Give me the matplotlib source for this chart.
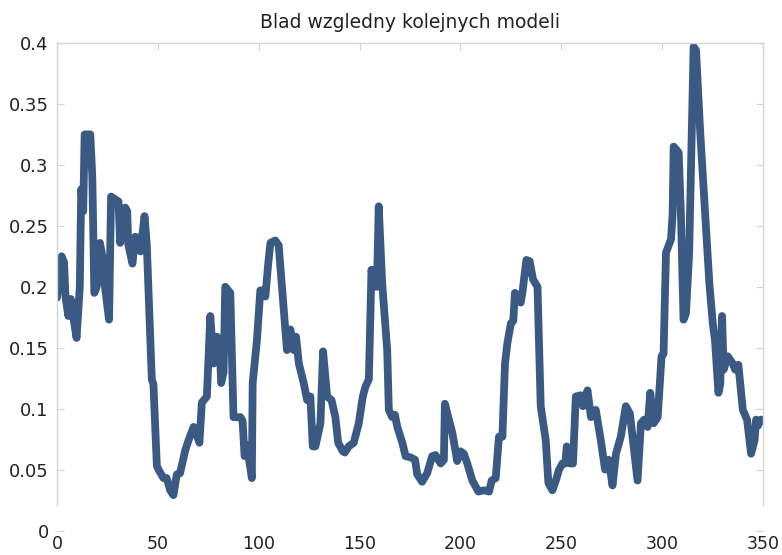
import matplotlib
matplotlib.use("Agg")
import matplotlib.pyplot as plt

title = "Blad wzgledny kolejnych modeli"

model_idx = [0, 2.3, 3.5, 4.2, 5.6, 6.8, 8.1, 9.7, 11.3, 12, 13, 13.7, 16.5, 17.5, 18.5, 19.7,
             21.3, 22.5, 23.7, 25.8, 26.8, 29.6, 30.5, 31.3, 33.8, 34.8, 35.3, 37.4, 38.7, 40.4,
             41.4, 43.4, 44.5, 47.0, 47.8, 49.5, 50.3, 52.8, 54.4, 56.1, 57.7, 59.4, 61, 63.6,
             65.2, 67.7, 69.4, 70.6, 71.8, 74.3, 76, 77.6, 79.3, 80.5, 81.4, 82.6, 83.4, 85.9,
             87.5, 90.9, 92, 93, 94.1, 96.6, 97, 99.1, 100.8, 102.4, 103.3, 104.6, 105.8, 108.2,
             109.9, 113.2, 114, 115.7, 117.4, 118.5, 119.9, 122.3, 124, 125.6, 126.8, 128.1,
             130.6, 131.9, 133.9, 136.1, 138, 139.4, 141.7, 142.7, 144.6, 147.1, 149.6, 151.6,
             152.9, 154.6, 155.9, 157, 157.8, 158.6, 159.5, 161.2, 163.7, 164.5, 166.2, 167.5,
             168.7, 171.2, 172.8, 175.3, 177.5, 178.6, 181, 183.5, 186, 187.6, 190.2, 191.8,
             192.3, 193.5, 196, 198.4, 200.1, 201.7, 203.4, 205.9, 208.9, 211.7, 214.2, 215.5,
             217.5, 219.1, 220.8, 222.1, 223.3, 225, 226.2, 227, 228.2, 229.9, 230.7, 232.7,
             234.3, 236, 238.2, 239.8, 242.3, 243.6, 245.6, 247.3, 248.9, 250.6, 252.0, 252.7,
             254.4, 255.8, 257.2, 259.7, 260.8, 263, 264.7, 267.1, 269.6, 271.7, 273.5, 275.4,
             277.1, 279.5, 282, 284, 287.8, 289.5, 291.1, 292.8, 294.1, 295.8, 297.8, 299.7,
             300.7, 301.9, 304.4, 305.2, 305.7, 307.3, 308.2, 309.3, 310.6, 311.8, 313.4, 315.6,
             316.8, 318.9, 323.4, 325.1, 326.2, 327.9, 328.8, 329.7, 330.5, 332.5, 335, 336.2,
             337.8, 340, 342.1, 344.1, 345.8, 346.6, 347.5, 349]

rel_error = [0.191, 0.225, 0.22, 0.192, 0.176, 0.19, 0.175, 0.158, 0.2, 0.28, 0.262, 0.325, 0.325,
             0.29, 0.195, 0.2, 0.236, 0.225, 0.201, 0.173, 0.274, 0.271, 0.27, 0.236, 0.265, 0.262,
             0.235, 0.219, 0.241, 0.24, 0.229, 0.258, 0.235, 0.124, 0.12, 0.053, 0.05, 0.043, 0.043,
             0.033, 0.029, 0.046, 0.047, 0.066, 0.074, 0.085, 0.078, 0.072, 0.105, 0.11, 0.176,
             0.137, 0.159, 0.155, 0.121, 0.13, 0.2, 0.195, 0.093, 0.093, 0.09, 0.061, 0.07, 0.043,
             0.121, 0.156, 0.197, 0.197, 0.192, 0.217, 0.236, 0.238, 0.234, 0.165, 0.148, 0.165,
             0.148, 0.159, 0.137, 0.121, 0.107, 0.11, 0.069, 0.069, 0.088, 0.147, 0.11, 0.107,
             0.093, 0.072, 0.065, 0.064, 0.069, 0.072, 0.088, 0.11, 0.118, 0.124, 0.214, 0.2,
             0.214, 0.2, 0.266, 0.203, 0.148, 0.099, 0.093, 0.095, 0.085, 0.072, 0.061, 0.06,
             0.058, 0.046, 0.04, 0.047, 0.061, 0.062, 0.055, 0.058, 0.104, 0.096, 0.08, 0.057,
             0.065, 0.063, 0.055, 0.041, 0.032, 0.033, 0.032, 0.041, 0.043, 0.077, 0.077, 0.137,
             0.154, 0.17, 0.172, 0.195, 0.192, 0.187, 0.195, 0.222, 0.221, 0.206, 0.2, 0.102,
             0.074, 0.039, 0.033, 0.041, 0.05, 0.055, 0.055, 0.069, 0.055, 0.055, 0.11, 0.111,
             0.102, 0.115, 0.093, 0.099, 0.074, 0.05, 0.058, 0.037, 0.063, 0.077, 0.102, 0.096,
             0.041, 0.088, 0.091, 0.085, 0.113, 0.088, 0.093, 0.143, 0.145, 0.228, 0.239, 0.26,
             0.315, 0.312, 0.31, 0.26, 0.173, 0.178, 0.228, 0.397, 0.394, 0.326, 0.203, 0.17,
             0.156, 0.113, 0.12, 0.176, 0.132, 0.143, 0.137, 0.132, 0.136, 0.099, 0.091, 0.063,
             0.074, 0.091, 0.086, 0.091]

x_ticks = [0, 50, 100, 150, 200, 250, 300, 350]
x_tick_labels = ["0", "50", "100", "150", "200", "250", "300", "350"]
y_ticks = [0, 0.05, 0.1, 0.15, 0.2, 0.25, 0.3, 0.35, 0.4]
y_tick_labels = ["0", "0.05", "0.1", "0.15", "0.2", "0.25", "0.3", "0.35", "0.4"]

plt.rcParams['font.family'] = ['DejaVu Sans']

fig = plt.figure(figsize=(7.82, 5.55), dpi=100)
ax = fig.add_axes([0.0729, 0.0441, 0.9028, 0.8784])

ax.plot(model_idx, rel_error, color="#3a5a84", linewidth=5.6,
        solid_joinstyle="round", solid_capstyle="round")

ax.set_xlim(0, 350)
ax.set_ylim(0, 0.4)
ax.set_xticks(x_ticks)
ax.set_xticklabels(x_tick_labels)
ax.set_yticks(y_ticks)
ax.set_yticklabels(y_tick_labels)

spine_col = "#d4d4d4"
for side in ["left", "top", "right"]:
    ax.spines[side].set_color(spine_col)
    ax.spines[side].set_linewidth(1.0)
ax.spines["bottom"].set_visible(False)
ax.spines["left"].set_bounds(0.021, 0.4)
ax.spines["right"].set_bounds(0.021, 0.4)

ax.tick_params(axis="both", direction="in", length=5, color=spine_col,
               labelsize=13, labelcolor="#222222", top=True, right=True, bottom=False)
ax.tick_params(axis="x", pad=3, labelsize=12.5)
ax.tick_params(axis="y", pad=6)

ax.set_title(title, fontsize=13.5, color="#222222", pad=11)

fig.savefig("out.png", dpi=100)
